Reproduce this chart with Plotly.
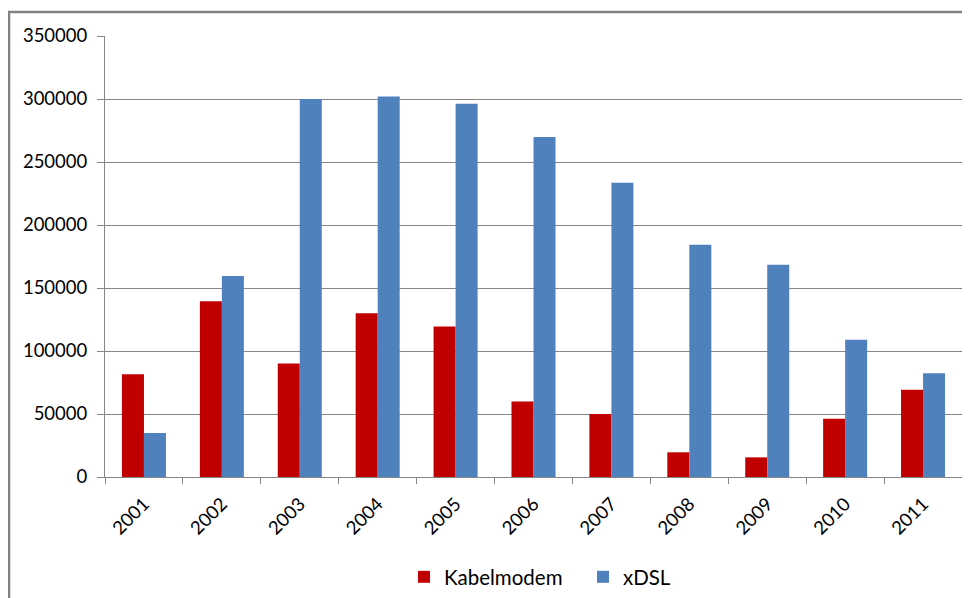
import plotly.graph_objects as go

years = ["2001", "2002", "2003", "2004", "2005", "2006", "2007", "2008", "2009", "2010", "2011"]
kabelmodem = [81500, 139500, 90000, 130000, 119500, 60000, 50000, 19600, 15600, 46300, 69300]
xdsl = [34900, 159500, 300000, 302000, 296300, 269800, 233600, 184400, 168500, 109000, 82300]

fig = go.Figure()
fig.add_trace(go.Bar(x=years, y=kabelmodem, name="Kabelmodem", marker_color="#C00000"))
fig.add_trace(go.Bar(x=years, y=xdsl, name="xDSL", marker_color="#4F81BD"))

fam = "Lato, Open Sans, sans-serif"
font = dict(family=fam, size=18.5, color="#000000")
# the page shows the figure offset by 8px (body margin), so size/margins compensate
W, H = 962, 590
ml, mr, mt, mb = 97, 8, 28, 121
pw, ph = W - ml - mr, H - mt - mb

fig.update_layout(
    template="none",
    width=W, height=H,
    margin=dict(l=ml, r=mr, t=mt, b=mb, pad=0, autoexpand=False),
    paper_bgcolor="white", plot_bgcolor="white",
    font=font,
    barmode="group", bargap=0.435, bargroupgap=0,
    showlegend=True,
    legend=dict(orientation="h", x=(396 - ml) / pw, xanchor="left", y=-100 / ph, yanchor="middle",
                font=dict(family=fam, size=20.5, color="#000000"),
                itemwidth=30, tracegroupgap=0, entrywidth=134, entrywidthmode="pixels"),
    xaxis=dict(type="category", showline=True, linecolor="#868686", linewidth=1, automargin=False,
               ticks="outside", tickson="boundaries", ticklen=6, tickcolor="#868686",
               tickangle=-45, showgrid=False, tickfont=font, ticklabelstandoff=8),
    yaxis=dict(range=[0, 350000], dtick=50000, showline=True, linecolor="#868686", linewidth=1,
               automargin=False,
               ticks="outside", ticklen=7, tickcolor="#868686",
               showgrid=True, gridcolor="#868686", gridwidth=1, zeroline=False,
               tickformat="d", tickfont=font, ticklabelstandoff=6),
)

x0 = (1 - ml) / pw
y1 = (H - mb - 4) / ph
fig.add_shape(type="rect", xref="paper", yref="paper",
              x0=x0, x1=1.2, y0=-0.5, y1=y1,
              line=dict(color="#808080", width=2.5), fillcolor="rgba(0,0,0,0)", layer="below")

fig.write_html("out.html")
